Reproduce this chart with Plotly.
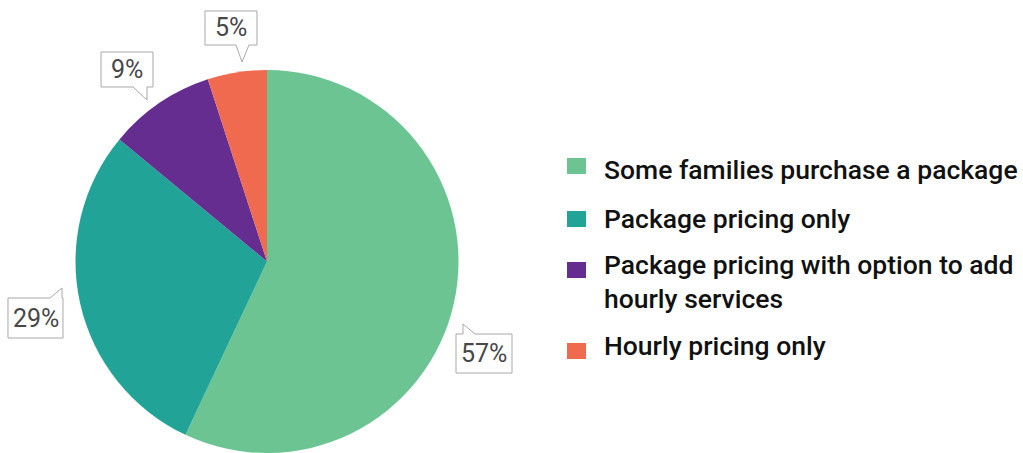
import plotly.graph_objects as go

# Survey shares for pricing structures
labels = [
    "Some families purchase a package",
    "Package pricing only",
    "Package pricing with option to add<br>hourly services",
    "Hourly pricing only",
]
values = [57, 29, 9, 5]
colors = ["#6cc493", "#21a398", "#662d91", "#ef6a4e"]

W, H = 1023, 453


def px(x):
    return x / W


def py(y):
    return 1 - y / H


fig = go.Figure(
    go.Pie(
        labels=labels,
        values=values,
        marker=dict(colors=colors, line=dict(width=0)),
        sort=False,
        direction="clockwise",
        rotation=0,
        textinfo="none",
        hoverinfo="label+percent",
        showlegend=False,
        domain=dict(x=[px(75), px(459)], y=[0, py(70)]),
    )
)

# Callout outlines in pixels, listed clockwise with the pointer included
callouts = [
    [(456, 334), (463, 334), (463, 324), (475, 334), (512, 334), (512, 373), (456, 373)],
    [(8, 298), (50, 298), (62, 288), (62, 298), (63, 298), (63, 338), (8, 338)],
    [(101, 52), (153, 52), (153, 87), (147, 87), (147, 100), (133, 87), (101, 87)],
    [(205, 11), (257, 11), (257, 45), (249, 45), (242, 62), (236, 45), (205, 45)],
]
# Box rectangles (left, top, right, bottom) for centring the value text
boxes = [(456, 334, 512, 373), (8, 298, 63, 338), (101, 52, 153, 87), (205, 11, 257, 45)]

shapes = []
annotations = []
for val, pts, (x0, y0, x1, y1) in zip(values, callouts, boxes):
    path = "M " + " L ".join(f"{px(a):.5f},{py(b):.5f}" for a, b in pts) + " Z"
    shapes.append(
        dict(
            type="path",
            xref="paper",
            yref="paper",
            path=path,
            fillcolor="white",
            line=dict(color="#a8a8a8", width=1),
            layer="above",
        )
    )
    annotations.append(
        dict(
            x=px((x0 + x1) / 2),
            y=py((y0 + y1) / 2),
            xref="paper",
            yref="paper",
            text=f"{val}%",
            showarrow=False,
            xanchor="center",
            yanchor="middle",
            font=dict(family="Roboto", size=25, color="#484848"),
        )
    )

# Legend: swatch centre rows and text centre rows
swatch_rows = [166, 219, 270, 351]
text_rows = [170, 218, 281, 345]
for lab, col, sy, ty in zip(labels, colors, swatch_rows, text_rows):
    shapes.append(
        dict(
            type="rect",
            xref="paper",
            yref="paper",
            x0=px(567),
            x1=px(586),
            y0=py(sy - 8),
            y1=py(sy + 8),
            fillcolor=col,
            line=dict(width=0),
        )
    )
    annotations.append(
        dict(
            x=px(602),
            y=py(ty),
            xref="paper",
            yref="paper",
            text=lab,
            showarrow=False,
            xanchor="left",
            yanchor="middle",
            align="left",
            font=dict(family="Roboto", size=26.5, color="#111111", weight=500),
        )
    )

fig.update_layout(
    width=W,
    height=H,
    margin=dict(l=0, r=0, t=0, b=0),
    paper_bgcolor="white",
    plot_bgcolor="white",
    shapes=shapes,
    annotations=annotations,
)

fig.write_html("out.html")
